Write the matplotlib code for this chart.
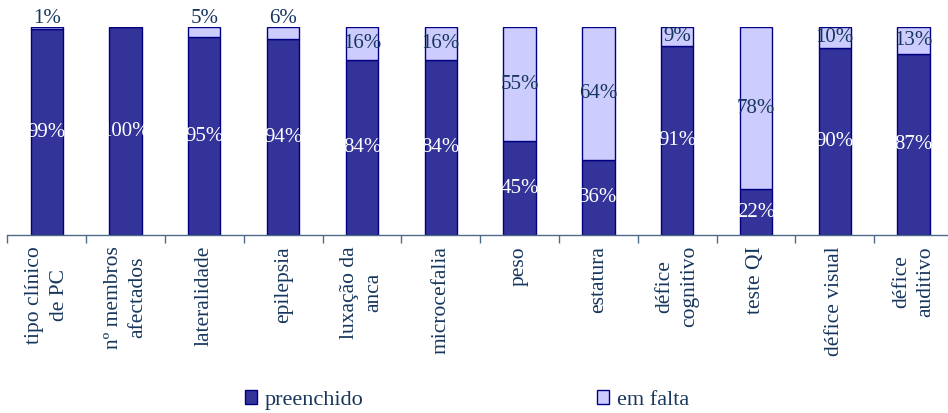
import matplotlib
matplotlib.use("Agg")
import matplotlib.pyplot as plt
from matplotlib.patches import Patch

categories = ["tipo clínico\nde PC", "nº membros\nafectados", "lateralidade", "epilepsia",
              "luxação da\nanca", "microcefalia", "peso", "estatura", "défice\ncognitivo",
              "teste QI", "défice visual", "défice\nauditivo"]
preenchido = [99, 100, 95, 94, 84, 84, 45, 36, 91, 22, 90, 87]
em_falta = [1, 0, 5, 6, 16, 16, 55, 64, 9, 78, 10, 13]

dark = "#333399"
light = "#CCCCFF"
edge = "#000080"
txt = "#17365D"

plt.rcParams['font.family'] = ['Liberation Serif', 'DejaVu Serif']

fig = plt.figure(figsize=(9.48, 4.13), dpi=100)
W, H = 948, 413
left, right, bottom, top = 7.3, 953, 235, 27
ax = fig.add_axes([left / W, (H - bottom) / H, (right - left) / W, (bottom - top) / H])

x = [i + 0.5 for i in range(len(categories))]
ax.bar(x, preenchido, width=0.41, color=dark, edgecolor=edge, linewidth=1, zorder=2)
ax.bar(x, em_falta, width=0.41, bottom=preenchido, color=light, edgecolor=edge, linewidth=1, zorder=2)

fs = 15
for xi, p, f in zip(x, preenchido, em_falta):
    ax.text(xi, p / 2, f"{p}%", ha='center', va='center', color='white', fontsize=fs, zorder=3)
    if f > 0:
        if f < 8:
            ax.text(xi, 99.3, f"{f}%", ha='center', va='bottom', color=txt, fontsize=fs,
                    zorder=3, clip_on=False)
        else:
            ax.text(xi, p + f / 2, f"{f}%", ha='center', va='center', color=txt, fontsize=fs,
                    zorder=3)

ax.set_xlim(0, len(categories))
ax.set_ylim(0, 100)
for s in ['left', 'right', 'top']:
    ax.spines[s].set_visible(False)
ax.spines['bottom'].set_color('#4F6A8A')
ax.spines['bottom'].set_linewidth(1)
ax.set_yticks([])
ax.set_xticks(x)
ax.set_xticklabels(categories, rotation=90, fontsize=15.5, color=txt, multialignment='center',
                   linespacing=1.4)
ax.tick_params(axis='x', which='major', length=0, pad=8)
ax.set_xticks(range(len(categories) + 1), minor=True)
ax.tick_params(axis='x', which='minor', length=6, color='#4F6A8A', width=1)

handles = [Patch(facecolor=dark, edgecolor=edge, label='preenchido'),
           Patch(facecolor=light, edgecolor=edge, label='em falta')]
leg = fig.legend(handles=handles, loc='center', bbox_to_anchor=(467 / W, (H - 400) / H), ncol=2,
                 frameon=False, fontsize=16, handlelength=0.55, handleheight=0.55,
                 handletextpad=0.35, columnspacing=10.5)
for t in leg.get_texts():
    t.set_color(txt)

fig.savefig("out.png", dpi=100)
